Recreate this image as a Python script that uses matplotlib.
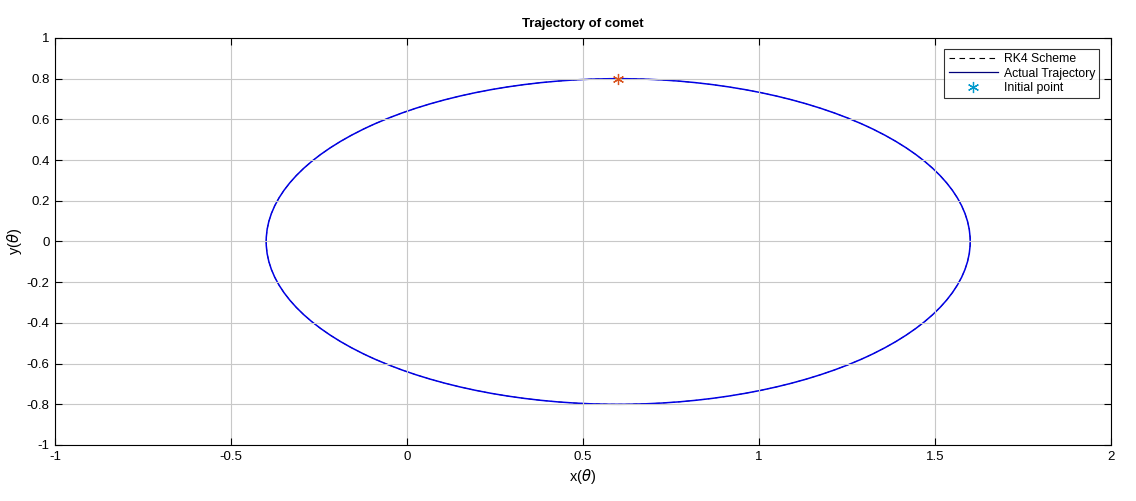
import matplotlib
matplotlib.use('Agg')
import matplotlib.pyplot as plt
from matplotlib.patches import Ellipse
from matplotlib.lines import Line2D

# orbit
CENTER = (0.6, 0.0)
SEMI_X = 1.0   # half width
SEMI_Y = 0.8   # half height
INIT_X = [0.6]
INIT_Y = [0.8]

XTICKS = [-1, -0.5, 0, 0.5, 1, 1.5, 2]
YTICKS = [-1, -0.8, -0.6, -0.4, -0.2, 0, 0.2, 0.4, 0.6, 0.8, 1]

plt.rcParams['font.family'] = ['Liberation Sans', 'DejaVu Sans']

ASTERISK = (6, 2, 0)  # matlab style '*'

fig = plt.figure(figsize=(11.36, 5.01), dpi=100)
ax = fig.add_axes([0.0484, 0.1118, 0.9296, 0.8124])

rk4 = Ellipse(CENTER, 2 * SEMI_X, 2 * SEMI_Y, fill=False, edgecolor='black',
              linestyle=(0, (5, 4)), linewidth=0.6)
actual = Ellipse(CENTER, 2 * SEMI_X, 2 * SEMI_Y, fill=False, edgecolor='#0000e6',
                 linewidth=1.1)
ax.add_patch(rk4)
ax.add_patch(actual)
ax.plot(INIT_X, INIT_Y, linestyle='none', marker=ASTERISK, color='#d9531e',
        markersize=8, markeredgewidth=0.9)

handles = [
    Line2D([], [], color='black', linestyle=(0, (5, 4)), linewidth=0.8),
    Line2D([], [], color='#00007a', linewidth=0.9),
    Line2D([], [], color='#0099cc', linestyle='none', marker=ASTERISK,
           markersize=8, markeredgewidth=0.9),
]
leg = ax.legend(handles, ['RK4 Scheme', 'Actual Trajectory', 'Initial point'],
                loc='upper right', bbox_to_anchor=(0.989, 0.973), fontsize=8.8,
                frameon=True, fancybox=False, edgecolor='black',
                handlelength=4.0, borderpad=0.35, labelspacing=0.2,
                handletextpad=0.5, borderaxespad=0.0)
leg.get_frame().set_linewidth(0.8)

ax.set_xlim(-1, 2)
ax.set_ylim(-1, 1)
ax.set_xticks(XTICKS)
ax.set_yticks(YTICKS)
ax.set_xticklabels([f'{v:g}' for v in XTICKS])
ax.set_yticklabels([f'{v:g}' for v in YTICKS])
ax.tick_params(direction='in', labelsize=9.5, length=5, width=0.8,
               top=True, right=True, pad=4)
ax.grid(True, color='#c8c8c8', linewidth=0.8)
for s in ax.spines.values():
    s.set_linewidth(0.8)

ax.set_title('Trajectory of comet', fontsize=9.5, fontweight='bold', pad=8)
ax.set_xlabel(r'x($\theta$)', fontsize=10.5, labelpad=3)
ax.set_ylabel(r'y($\theta$)', fontsize=10.5, labelpad=2)

fig.savefig('out.png', dpi=100)
